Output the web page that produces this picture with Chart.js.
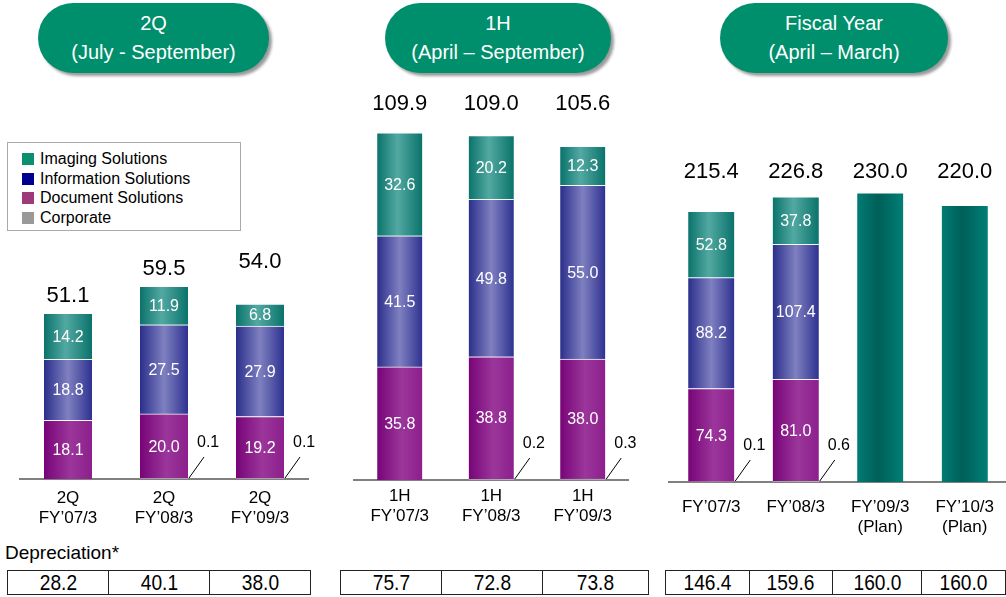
<!DOCTYPE html>
<html>
<head>
<meta charset="utf-8">
<script src="https://cdn.jsdelivr.net/npm/chart.js@4.4.1/dist/chart.umd.min.js"></script>
<style>
  html, body { margin: 0; padding: 0; background: #fff; overflow: hidden; }
  body { width: 1006px; height: 597px; position: relative; font-family: "Liberation Sans", Arial, sans-serif; }
  canvas { position: absolute; top: 80px; }
  .pill {
    position: absolute; top: 3px; height: 70px; border-radius: 35px;
    background: #008f6c; color: #fff; font-size: 20px; line-height: 29px;
    text-align: center; box-shadow: 3px 3px 3px #9a9a9a;
    display: flex; flex-direction: column; justify-content: center;
  }
  #legend {
    position: absolute; left: 7px; top: 142px; width: 234px; height: 89px;
    border: 1px solid #aaa; box-sizing: border-box; padding-top: 6px;
  }
  #legend div { height: 19.5px; line-height: 19.5px; font-size: 16px; padding-left: 32px; position: relative; }
  #legend span { position: absolute; left: 14px; top: 4px; width: 12px; height: 12px; }
  .note { position: absolute; left: 5px; top: 542px; font-size: 19px; }
  table.depr {
    position: absolute; top: 570px; border-collapse: collapse; table-layout: fixed;
  }
  table.depr td {
    border: 1.5px solid #222; height: 22px; padding: 0; text-align: center;
    font-size: 22px; line-height: 23px; overflow: hidden;
  }
  table.depr td span { display: inline-block; transform: scaleX(0.87); }
</style>
</head>
<body>

<div class="pill" style="left:38px;width:231px">2Q<br>(July - September)</div>
<div class="pill" style="left:385px;width:226px">1H<br>(April – September)</div>
<div class="pill" style="left:720px;width:228px">Fiscal Year<br>(April – March)</div>

<div id="legend"></div>

<canvas id="quarterChart" width="330" height="460" style="left:0"></canvas>
<canvas id="halfChart" width="300" height="460" style="left:340px"></canvas>
<canvas id="yearChart" width="370" height="460" style="left:640px"></canvas>

<div class="note">Depreciation*</div>
<table class="depr" id="deprQuarter" style="left:7px"></table>
<table class="depr" id="deprHalf" style="left:340px"></table>
<table class="depr" id="deprYear" style="left:665px"></table>

<script>
// ---- data (billion yen) ----
const segmentNames = ['Imaging Solutions', 'Information Solutions', 'Document Solutions', 'Corporate'];

const quarterLabels = [['2Q', 'FY’07/3'], ['2Q', 'FY’08/3'], ['2Q', 'FY’09/3']];
const quarterImaging = [14.2, 11.9, 6.8];
const quarterInformation = [18.8, 27.5, 27.9];
const quarterDocument = [18.1, 20.0, 19.2];
const quarterCorporate = [null, 0.1, 0.1];
const quarterDepreciation = [28.2, 40.1, 38.0];

const halfLabels = [['1H', 'FY’07/3'], ['1H', 'FY’08/3'], ['1H', 'FY’09/3']];
const halfImaging = [32.6, 20.2, 12.3];
const halfInformation = [41.5, 49.8, 55.0];
const halfDocument = [35.8, 38.8, 38.0];
const halfCorporate = [null, 0.2, 0.3];
const halfDepreciation = [75.7, 72.8, 73.8];

const yearLabels = ['FY’07/3', 'FY’08/3', ['FY’09/3', '(Plan)'], ['FY’10/3', '(Plan)']];
const yearImaging = [52.8, 37.8, null, null];
const yearInformation = [88.2, 107.4, null, null];
const yearDocument = [74.3, 81.0, null, null];
const yearCorporate = [0.1, 0.6, null, null];
const yearPlan = [null, null, 230.0, 220.0];
const yearDepreciation = [146.4, 159.6, 160.0, 160.0];

const FONT = '"Liberation Sans", Arial, sans-serif';

// horizontal shading for each bar colour
const shades = {
  imaging: [[0, '#0a736b'], [0.45, '#52a9a2'], [1, '#0a736b']],
  information: [[0, '#2b2f8b'], [0.5, '#7f80c0'], [1, '#2e3290']],
  document: [[0, '#780478'], [0.55, '#9b369b'], [1, '#8c1f8c']],
  corporate: [[0, '#8a8a8a'], [1, '#a0a0a0']],
  plan: [[0, '#007c73'], [0.45, '#005f58'], [1, '#007f76']]
};
const legendColors = ['#0a8f6f', '#000090', '#9c3a7a', '#999999'];

function shaded(name, thickness) {
  return function (c) {
    const chart = c.chart;
    const xs = chart.scales.x;
    const flat = shades[name][1][1];
    if (!xs || c.dataIndex === undefined) return flat;
    const cx = xs.getPixelForValue(c.dataIndex);
    if (!isFinite(cx)) return flat;
    const g = chart.ctx.createLinearGradient(cx - thickness / 2, 0, cx + thickness / 2, 0);
    shades[name].forEach(s => g.addColorStop(s[0], s[1]));
    return g;
  };
}

// value labels: white inside segments, leader lines for Corporate, totals on top
const barLabels = {
  id: 'barLabels',
  afterDatasetsDraw(chart, args, opts) {
    const ctx = chart.ctx;
    ctx.save();
    ctx.textAlign = 'center';
    ctx.textBaseline = 'middle';
    chart.data.datasets.forEach((ds, di) => {
      const meta = chart.getDatasetMeta(di);
      meta.data.forEach((bar, i) => {
        const v = ds.data[i];
        if (v == null) return;
        if (ds.role === 'segment') {
          ctx.fillStyle = '#fff';
          ctx.font = '16px ' + FONT;
          ctx.fillText(v.toFixed(1), bar.x, (bar.y + bar.base) / 2 + 1);
        } else if (ds.role === 'corporate') {
          const x0 = bar.x + bar.width / 2 + 1;
          const y0 = bar.base - 1;
          ctx.strokeStyle = '#000';
          ctx.lineWidth = 1;
          ctx.beginPath();
          ctx.moveTo(x0, y0);
          ctx.lineTo(x0 + 15, y0 - 21);
          ctx.stroke();
          ctx.fillStyle = '#000';
          ctx.font = '16px ' + FONT;
          ctx.textAlign = 'left';
          ctx.fillText(v.toFixed(1), x0 + 8, y0 - 35);
          ctx.textAlign = 'center';
        }
      });
    });
    const n = chart.data.labels.length;
    ctx.fillStyle = '#000';
    ctx.font = '22px ' + FONT;
    for (let i = 0; i < n; i++) {
      let sum = 0, top = Infinity;
      chart.data.datasets.forEach((ds, di) => {
        const v = ds.data[i];
        if (v == null) return;
        sum += v;
        top = Math.min(top, chart.getDatasetMeta(di).data[i].y);
      });
      const x = chart.scales.x.getPixelForValue(i);
      const y = opts.totalY != null ? opts.totalY : top - opts.lift[i];
      ctx.fillText(sum.toFixed(1), x, y);
    }
    ctx.restore();
  }
};

function makePanel(id, labels, series, cfg) {
  const t = cfg.thickness;
  const datasets = [
    { label: 'Corporate', role: 'corporate', data: series.corporate, backgroundColor: shaded('corporate', t) },
    { label: 'Document Solutions', role: 'segment', data: series.document, backgroundColor: shaded('document', t) },
    { label: 'Information Solutions', role: 'segment', data: series.information, backgroundColor: shaded('information', t) },
    { label: 'Imaging Solutions', role: 'segment', data: series.imaging, backgroundColor: shaded('imaging', t) }
  ];
  if (series.plan) {
    datasets.push({ label: 'Plan', role: 'plan', data: series.plan, backgroundColor: shaded('plan', t) });
  }
  datasets.forEach(d => {
    d.barThickness = t;
    d.borderWidth = { top: 1, left: 0, right: 0, bottom: 0 };
    d.borderColor = 'rgba(255,255,255,0.85)';
    d.borderSkipped = false;
  });

  new Chart(document.getElementById(id), {
    type: 'bar',
    data: { labels: labels, datasets: datasets },
    options: {
      responsive: false,
      animation: false,
      devicePixelRatio: 1,
      layout: { padding: { left: cfg.left, right: cfg.right, top: 0, bottom: 0 } },
      plugins: {
        legend: { display: false },
        tooltip: { enabled: false },
        barLabels: { totalY: cfg.totalY, lift: cfg.lift }
      },
      scales: {
        x: {
          stacked: true,
          grid: { display: false, drawTicks: false },
          border: { display: true, color: '#808080', width: 2 },
          ticks: {
            color: '#000', padding: cfg.tickPad, maxRotation: 0, autoSkip: false,
            font: { family: FONT, size: 17, lineHeight: 1.2 }
          },
          afterFit(scale) { scale.height = cfg.axisHeight; }
        },
        y: { stacked: true, display: false, min: 0, max: cfg.max }
      }
    },
    plugins: [barLabels]
  });
}

makePanel('quarterChart', quarterLabels,
  { imaging: quarterImaging, information: quarterInformation, document: quarterDocument, corporate: quarterCorporate },
  { thickness: 48, left: 20, right: 22, max: 123.15, axisHeight: 61, tickPad: 9, lift: [18, 17, 42] });

makePanel('halfChart', halfLabels,
  { imaging: halfImaging, information: halfInformation, document: halfDocument, corporate: halfCorporate },
  { thickness: 45, left: 14, right: 11.5, max: 126.6, axisHeight: 60, tickPad: 6, totalY: 24 });

makePanel('yearChart', yearLabels,
  { imaging: yearImaging, information: yearInformation, document: yearDocument, corporate: yearCorporate, plan: yearPlan },
  { thickness: 46, left: 29, right: 3, max: 319.8, axisHeight: 58, tickPad: 15, totalY: 92 });

// legend
const legend = document.getElementById('legend');
segmentNames.forEach((name, i) => {
  const row = document.createElement('div');
  row.innerHTML = '<span style="background:' + legendColors[i] + '"></span>' + name;
  legend.appendChild(row);
});

// depreciation rows
function fillRow(id, values, widths) {
  const tr = document.createElement('tr');
  values.forEach((v, i) => {
    const td = document.createElement('td');
    td.style.width = widths[i] + 'px';
    td.innerHTML = '<span>' + v.toFixed(1) + '</span>';
    tr.appendChild(td);
  });
  document.getElementById(id).appendChild(tr);
}
fillRow('deprQuarter', quarterDepreciation, [100, 100, 100]);
fillRow('deprHalf', halfDepreciation, [100, 100, 105]);
fillRow('deprYear', yearDepreciation, [86, 86, 92, 86]);
</script>
</body>
</html>
